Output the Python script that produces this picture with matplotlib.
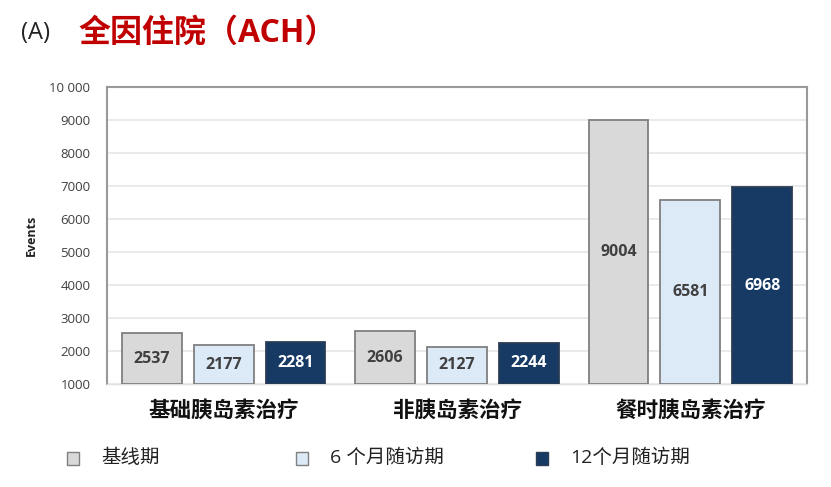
import numpy as np
import matplotlib.pyplot as plt

plt.rcParams['font.family'] = ['Open Sans', 'Noto Sans CJK SC', 'DejaVu Sans']

categories = ['基础胰岛素治疗', '非胰岛素治疗', '餐时胰岛素治疗']
series_names = ['基线期', '6 个月随访期', '12个月随访期']
baseline = [2537, 2606, 9004]
month6 = [2177, 2127, 6581]
month12 = [2281, 2244, 6968]
yticks = [1000, 2000, 3000, 4000, 5000, 6000, 7000, 8000, 9000, 10000]
ytick_labels = ['1000', '2000', '3000', '4000', '5000', '6000', '7000', '8000', '9000', '10 000']

fill_colors = ['#d9d9d9', '#dce9f7', '#163a64']
edge_colors = ['#7f7f7f', '#7f7f7f', '#2b3d55']
text_colors = ['#404040', '#404040', 'white']

fig = plt.figure(figsize=(8.31, 4.87), dpi=100)
ax = fig.add_axes([107 / 831, 1 - 384 / 487, 700 / 831, 297 / 487])

x = np.arange(len(categories))
width = 0.256
offset = 0.308
base = 1000

for i, vals in enumerate([baseline, month6, month12]):
    pos = x + (i - 1) * offset
    heights = np.array(vals) - base
    bars = ax.bar(pos, heights, width, bottom=base, color=fill_colors[i],
                  edgecolor=edge_colors[i], linewidth=1.3, zorder=3)
    for b, v in zip(bars, vals):
        ax.text(b.get_x() + b.get_width() / 2, base + (v - base) / 2, str(v),
                ha='center', va='center', fontsize=11.5, fontweight='bold',
                color=text_colors[i], zorder=4)

ax.set_xlim(-0.5, 2.5)
ax.set_ylim(1000, 10000)
ax.set_yticks(yticks)
ax.set_yticklabels(ytick_labels, fontsize=9.5, color='#404040')
ax.yaxis.grid(True, color='#e6e6e6', linewidth=1.2, zorder=0)
ax.tick_params(axis='y', length=0, pad=12)
ax.set_xticks(x)
ax.set_xticklabels(categories, fontsize=15.5, fontweight='bold', color='#111111')
ax.tick_params(axis='x', length=0, pad=12)
ax.set_ylabel('Events', fontsize=9, fontweight='bold', color='#222222', labelpad=8)

for side in ['left', 'right', 'top']:
    ax.spines[side].set_color('#999999')
    ax.spines[side].set_linewidth(1.5)
ax.spines['bottom'].set_color('#e0e0e0')
ax.spines['bottom'].set_linewidth(1)

# title
fig.text(21 / 831, 1 - 33 / 487, '(A)', fontsize=17, color='#222222', va='center')
fig.text(78 / 831, 1 - 33 / 487, '全因住院（ACH）', fontsize=23, fontweight='bold',
         color='#c00000', va='center')

# legend
leg_x = [73, 302, 542]
for lx, name, fc, ec in zip(leg_x, series_names, fill_colors, edge_colors):
    fig.patches.append(plt.Rectangle(((lx - 6) / 831, 1 - 465 / 487), 12 / 831, 13 / 487,
                                     transform=fig.transFigure, facecolor=fc,
                                     edgecolor=ec, linewidth=1))
    fig.text((lx + 28) / 831, 1 - 458 / 487, name, fontsize=14, color='#222222',
             va='center')

fig.savefig('out.png', dpi=100)
